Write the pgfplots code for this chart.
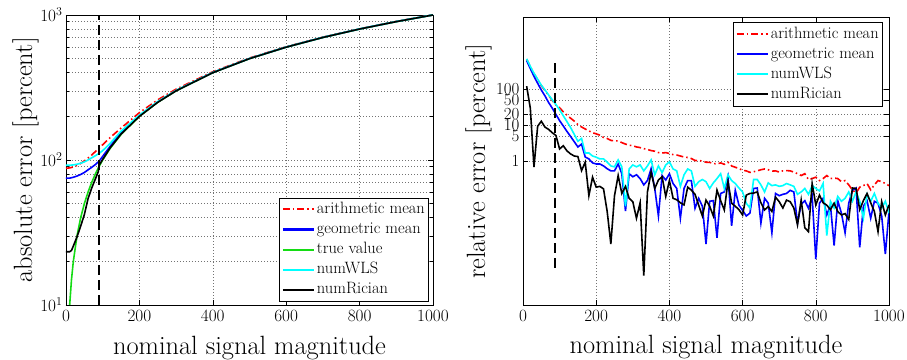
\documentclass[border=0pt]{standalone}
\usepackage{pgfplots}
\pgfplotsset{compat=1.18}
\definecolor{mred}{rgb}{1,0,0}
\definecolor{mblue}{rgb}{0,0,1}
\definecolor{mgreen}{RGB}{20,220,20}
\definecolor{mcyan}{rgb}{0,1,1}
\pgfplotsset{
  myaxis/.style={
    scale only axis, xmin=0, xmax=1000,
    xtick={0,200,...,1000},
    /pgf/number format/1000 sep={},
    tick label style={font=\fontsize{17}{20}\selectfont},
    xticklabel style={yshift=-1.5bp},
    label style={font=\fontsize{26.5}{30}\selectfont},
    axis line style={line width=0.9bp},
    major tick length=5bp, minor tick length=3bp,
    every tick/.style={black, line width=0.6bp},
    grid style={black!55, line width=0.6bp, dash pattern=on 0.7bp off 2.3bp},
    legend cell align=left,
    legend style={font=\fontsize{16.5}{19}\selectfont, draw=black, line width=0.9bp,
      inner xsep=2bp, inner ysep=1.5bp, row sep=0pt,
      nodes={text height=11.5bp, text depth=4bp, inner ysep=2.3bp, inner xsep=2bp}},
  },
  pl/.style={line width=1.6bp},
}
\begin{document}
\begin{tikzpicture}
\path[use as bounding box] (-66bp,-55bp) rectangle (841bp,305bp);
\begin{axis}[myaxis, ymode=log, at={(0,0)}, anchor=south west,
  width=367bp, height=290bp, ymin=10, ymax=1000,
  xmajorgrids, ymajorgrids, yminorgrids,
  xlabel={nominal signal magnitude},
  ylabel={absolute error [percent]},
  xlabel style={at={(axis description cs:0.5,-0.169)}, anchor=base},
  ylabel style={at={(axis description cs:-0.0926,0.5)}, anchor=base},
  legend image code/.code={\draw[#1, line width=2.1bp] (0bp,0.3bp) -- (31bp,0.3bp);},
  legend style={at={(rel axis cs:0.99,0.01)}, anchor=south east},
]
\addplot[mred, pl, dash pattern=on 7bp off 3bp on 1.5bp off 3bp] coordinates {(0,87.7)(10,88.2)(20,89.5)(30,91.8)(40,94.7)(50,98.6)(60,103.1)(70,108.3)(80,114.2)(90,120.7)(100,127.5)(120,142.6)(150,166)(200,212)(250,260)(300,308)(400,406)(500,505)(600,604)(700,703.5)(800,803)(900,902.7)(1000,1002.5)};
\addplot[mblue, pl] coordinates {(0,75)(10,75)(20,76)(30,77.5)(40,79.5)(50,82)(60,85.5)(70,89)(80,93)(90,98)(100,106)(120,124)(150,155)(200,202)(250,251)(300,301)(400,401)(500,501)(600,601)(700,701)(800,801)(900,901)(1000,1001)};
\addplot[mgreen, pl] coordinates {(10,10)(15,15)(20,20)(30,30)(40,40)(50,50)(60,60)(70,70)(80,80)(90,90)(100,100)(120,120)(150,150)(200,200)(250,250)(300,300)(400,400)(500,500)(600,600)(700,700)(800,800)(900,900)(1000,1000)};
\addplot[mcyan, pl] coordinates {(0,92)(10,92)(20,92.5)(30,93.5)(40,95)(50,97)(60,100)(70,103.5)(80,107)(90,111)(100,116)(120,130)(150,158)(200,204)(250,253)(300,302)(400,401.5)(500,501)(600,601)(700,701)(800,801)(900,901)(1000,1001)};
\addplot[black, pl] coordinates {(0,23.3)(10,23.3)(15,23.8)(20,25.5)(30,29.5)(40,35)(50,42)(60,54)(70,64)(80,74)(88,83)(90,92)(100,101)(120,121)(150,151)(200,200)(250,250)(300,300)(400,400)(500,500)(600,600)(700,700)(800,800)(900,900)(1000,1000)};
\addplot[black, line width=1.6bp, dash pattern=on 10bp off 5bp, forget plot] coordinates {(90,10)(90,1000)};
\legend{arithmetic mean, geometric mean, true value, numWLS, numRician}
\end{axis}
\begin{axis}[myaxis, ymode=log, at={(457bp,0)}, anchor=south west,
  width=366bp, height=287.5bp, ymin=1e-4, ymax=1e4,
  ytick={1,5,10,20,50,100}, yticklabels={1,5,10,20,50,100},
  minor ytick={}, xmajorgrids, ymajorgrids,
  xlabel={nominal signal magnitude},
  ylabel={relative error [percent]},
  xlabel style={at={(axis description cs:0.5,-0.17)}, anchor=base},
  ylabel style={at={(axis description cs:-0.1038,0.5)}, anchor=base},
  legend image code/.code={\draw[#1, line width=2.1bp] (0bp,0.3bp) -- (31bp,0.3bp);},
  legend style={at={(rel axis cs:0.984,0.983)}, anchor=north east},
]
\addplot[mred, pl, dash pattern=on 7bp off 3bp on 1.5bp off 3bp] coordinates {(10,690)(20,425)(30,272)(40,186)(50,127)(60,93)(70,68)(80,49)(90,37)(100,30.7)(110,23.8)(120,19.2)(130,15.8)(140,13.1)(150,10.5)(160,9.0)(170,7.9)(180,7.0)(190,6.2)(200,5.8)(210,5.3)(220,4.6)(230,4.3)(240,3.8)(250,3.7)(260,3.67)(270,3.3)(280,3.0)(290,2.8)(300,2.7)(310,2.5)(320,2.4)(330,2.24)(340,2.13)(350,1.98)(360,1.9)(370,1.74)(380,1.69)(390,1.74)(400,1.64)(410,1.53)(420,1.49)(430,1.4)(440,1.31)(450,1.27)(460,1.19)(470,1.05)(480,1.04)(490,1.02)(500,0.94)(510,0.93)(520,0.87)(530,0.84)(540,0.9)(550,0.82)(560,0.94)(570,0.74)(580,0.68)(590,0.63)(600,0.56)(610,0.54)(620,0.49)(630,0.51)(640,0.54)(650,0.58)(660,0.61)(670,0.58)(680,0.53)(690,0.54)(700,0.5)(710,0.54)(720,0.55)(730,0.54)(740,0.5)(750,0.45)(760,0.40)(770,0.45)(780,0.31)(790,0.33)(800,0.36)(810,0.29)(820,0.33)(830,0.40)(840,0.33)(850,0.34)(860,0.33)(870,0.27)(880,0.29)(890,0.22)(900,0.16)(910,0.13)(920,0.19)(930,0.21)(940,0.24)(950,0.16)(960,0.22)(970,0.29)(980,0.27)(990,0.24)(1000,0.21)};
\addplot[mblue, pl] coordinates {(10,630)(20,380)(30,230)(40,148)(50,96)(60,66)(70,43)(80,30)(90,20)(100,13.5)(110,9.6)(120,6.8)(130,4.9)(140,3.5)(150,2.5)(160,3.0)(170,1.31)(180,1.16)(190,0.9)(200,0.84)(210,0.84)(220,0.74)(230,0.62)(240,0.54)(250,0.54)(260,0.84)(270,0.45)(280,0.041)(290,0.45)(300,0.37)(310,0.42)(320,0.33)(330,0.22)(340,0.29)(350,0.62)(360,0.175)(370,0.03)(380,0.4)(390,0.3)(400,0.45)(410,0.24)(420,0.175)(430,0.026)(440,0.175)(450,0.29)(460,0.29)(470,0.049)(480,0.093)(490,0.056)(500,0.005)(510,0.077)(520,0.08)(530,0.0074)(540,0.127)(550,0.14)(560,0.37)(570,0.016)(580,0.155)(590,0.06)(600,0.043)(610,0.03)(620,0.036)(630,0.175)(640,0.18)(650,0.019)(660,0.093)(670,0.068)(680,0.0102)(690,0.127)(700,0.11)(710,0.12)(720,0.127)(730,0.155)(740,0.14)(750,0.019)(760,0.064)(770,0.08)(780,0.049)(790,0.105)(800,0.0019)(810,0.068)(820,0.093)(830,0.032)(840,0.06)(850,0.0045)(860,0.08)(870,0.036)(880,0.0102)(890,0.068)(900,0.155)(910,0.18)(920,0.004)(930,0.056)(940,0.08)(950,0.026)(960,0.077)(970,0.068)(980,0.03)(990,0.0026)(1000,0.04)};
\addplot[mcyan, pl] coordinates {(10,707)(20,436)(30,280)(40,192)(50,131)(60,96)(70,70)(80,51)(90,38)(100,27)(110,18.5)(120,12.7)(130,8.7)(140,5.6)(150,3.6)(160,4.3)(170,1.7)(180,1.7)(190,1.4)(200,1.3)(210,1.16)(220,1.16)(230,0.95)(240,0.74)(250,0.70)(260,1.09)(270,0.70)(280,0.056)(290,0.61)(300,0.79)(310,0.70)(320,0.79)(330,0.54)(340,0.74)(350,1.09)(360,0.42)(370,0.74)(380,0.48)(390,0.79)(400,0.96)(410,0.61)(420,0.54)(430,0.2)(440,0.42)(450,0.61)(460,0.54)(470,0.2)(480,0.27)(490,0.31)(500,0.27)(510,0.175)(520,0.25)(530,0.33)(540,0.45)(550,0.175)(560,0.42)(570,0.29)(580,0.24)(590,0.18)(600,0.14)(610,0.068)(620,0.05)(630,0.31)(640,0.31)(650,0.22)(660,0.14)(670,0.25)(680,0.21)(690,0.22)(700,0.2)(710,0.21)(720,0.24)(730,0.22)(740,0.2)(750,0.12)(760,0.14)(770,0.175)(780,0.12)(790,0.21)(800,0.175)(810,0.15)(820,0.24)(830,0.0085)(840,0.077)(850,0.05)(860,0.105)(870,0.077)(880,0.093)(890,0.14)(900,0.077)(910,0.14)(920,0.077)(930,0.026)(940,0.12)(950,0.077)(960,0.127)(970,0.068)(980,0.05)(990,0.077)(1000,0.036)};
\addplot[black, pl] coordinates {(10,123)(20,30)(30,0.69)(40,9.4)(50,13)(60,8.9)(70,7.7)(80,6.2)(90,5.2)(100,2.2)(110,2.7)(120,1.95)(130,1.6)(140,1.4)(150,1.35)(160,0.55)(170,0.94)(180,0.11)(190,0.36)(200,0.19)(210,0.2)(220,0.17)(230,0.04)(240,0.005)(250,0.11)(260,0.4)(270,0.127)(280,0.2)(290,0.093)(300,0.075)(310,0.026)(320,0.07)(330,0.00066)(340,0.14)(350,0.5)(360,0.175)(370,0.3)(380,0.37)(390,0.105)(400,0.29)(410,0.093)(420,0.085)(430,0.07)(440,0.061)(450,0.19)(460,0.157)(470,0.12)(480,0.06)(490,0.03)(500,0.083)(510,0.056)(520,0.03)(530,0.157)(540,0.08)(550,0.044)(560,0.27)(570,0.068)(580,0.056)(590,0.045)(600,0.032)(610,0.114)(620,0.127)(630,0.13)(640,0.14)(650,0.07)(660,0.044)(670,0.055)(680,0.04)(690,0.1)(700,0.075)(710,0.05)(720,0.083)(730,0.075)(740,0.05)(750,0.017)(760,0.083)(770,0.014)(780,0.011)(790,0.24)(800,0.061)(810,0.114)(820,0.07)(830,0.06)(840,0.045)(850,0.068)(860,0.04)(870,0.032)(880,0.035)(890,0.024)(900,0.18)(910,0.175)(920,0.045)(930,0.08)(940,0.127)(950,0.07)(960,0.04)(970,0.011)(980,0.075)(990,0.032)(1000,0.061)};
\addplot[black, line width=1.6bp, dash pattern=on 10bp off 5bp, forget plot] coordinates {(88,0.0011)(88,710)};
\legend{arithmetic mean, geometric mean, numWLS, numRician}
\end{axis}
\end{tikzpicture}
\end{document}
